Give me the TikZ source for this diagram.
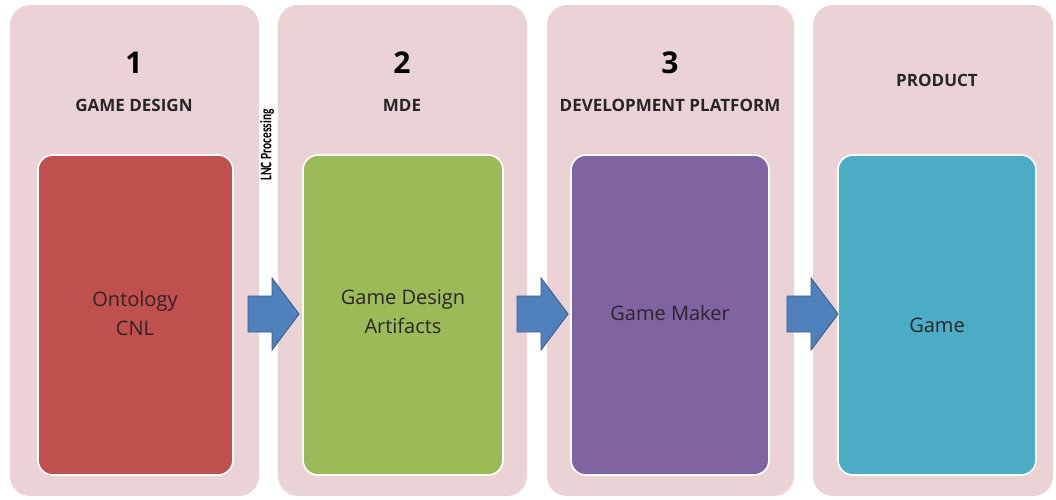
\documentclass[tikz,border=0pt]{standalone}
\usepackage{graphicx}
\usepackage{fontspec}
\setmainfont{Open Sans}
\newfontfamily\lncfont{Carlito}
\definecolor{panelpink}{HTML}{EBD2D5}
\definecolor{boxred}{HTML}{C0504D}
\definecolor{boxgreen}{HTML}{9BBB59}
\definecolor{boxpurple}{HTML}{8064A2}
\definecolor{boxteal}{HTML}{4BACC6}
\definecolor{arrowblue}{HTML}{4F81BD}
\definecolor{arrowedge}{HTML}{385D8A}
\definecolor{inktext}{HTML}{2E2429}
\tikzset{
  panel/.style={fill=panelpink, draw=none, rounded corners=20pt},
  inner/.style={draw=white, line width=1.6pt, rounded corners=15pt},
  numlabel/.style={font=\bfseries\fontsize{30}{32}\selectfont, text=black},
  titlelabel/.style={font=\bfseries\fontsize{17}{19}\selectfont, text=black!85},
  boxtext/.style={font=\fontsize{20}{29}\selectfont, text=inktext, align=center},
  blockarrowstyle/.style={fill=arrowblue, draw=arrowedge, line width=0.9pt, line join=miter},
  blockarr/.pic={\path[blockarrowstyle] (0,-18) -- (24,-18) -- (24,-36) -- (51,0) -- (24,36) -- (24,18) -- (0,18) -- cycle;},
}
\begin{document}
\begin{tikzpicture}[x=1pt,y=-1pt]
\useasboundingbox[fill=white] (0,0) rectangle (1056,499);
% panels
\path[panel] (10,5) rectangle (259,496);
\path[panel] (278,5) rectangle (527,496);
\path[panel] (547,5) rectangle (794,496);
\path[panel] (813,5) rectangle (1053,496);
% inner boxes
\draw[inner, fill=boxred] (38,155) rectangle (233,475);
\draw[inner, fill=boxgreen] (303,155) rectangle (503,475);
\draw[inner, fill=boxpurple] (571,155) rectangle (769,475);
\draw[inner, fill=boxteal] (838,155) rectangle (1036,475);
% titles
\node[numlabel] (n1) at (134,63) {1};
\node[titlelabel] (t1) at (134,105) {GAME DESIGN};
\node[numlabel] (n2) at (402,63) {2};
\node[titlelabel] (t2) at (402,105) {MDE};
\node[numlabel] (n3) at (670,63) {3};
\node[titlelabel] (t3) at (670,105) {DEVELOPMENT PLATFORM};
\node[titlelabel] (t4) at (937,80) {PRODUCT};
% box texts
\node[boxtext] (b1) at (135,313) {Ontology\\CNL};
\node[boxtext] (b2) at (403,312) {Game Design\\Artifacts};
\node[boxtext] (b3) at (670,313) {Game Maker};
\node[boxtext] (b4) at (937,325) {Game};
% LNC label
\node[rotate=90, inner sep=0pt, font=\lncfont\bfseries\fontsize{11.5}{13}\selectfont, text=black] (lnc) at (267,145) {\scalebox{1}[1.4]{LNC Processing}};
% block arrows
\coordinate (a1) at (248,314);
\coordinate (a2) at (517,314);
\coordinate (a3) at (787,314);
\pic at (a1) {blockarr};
\pic at (a2) {blockarr};
\pic at (a3) {blockarr};
\end{tikzpicture}
\end{document}
